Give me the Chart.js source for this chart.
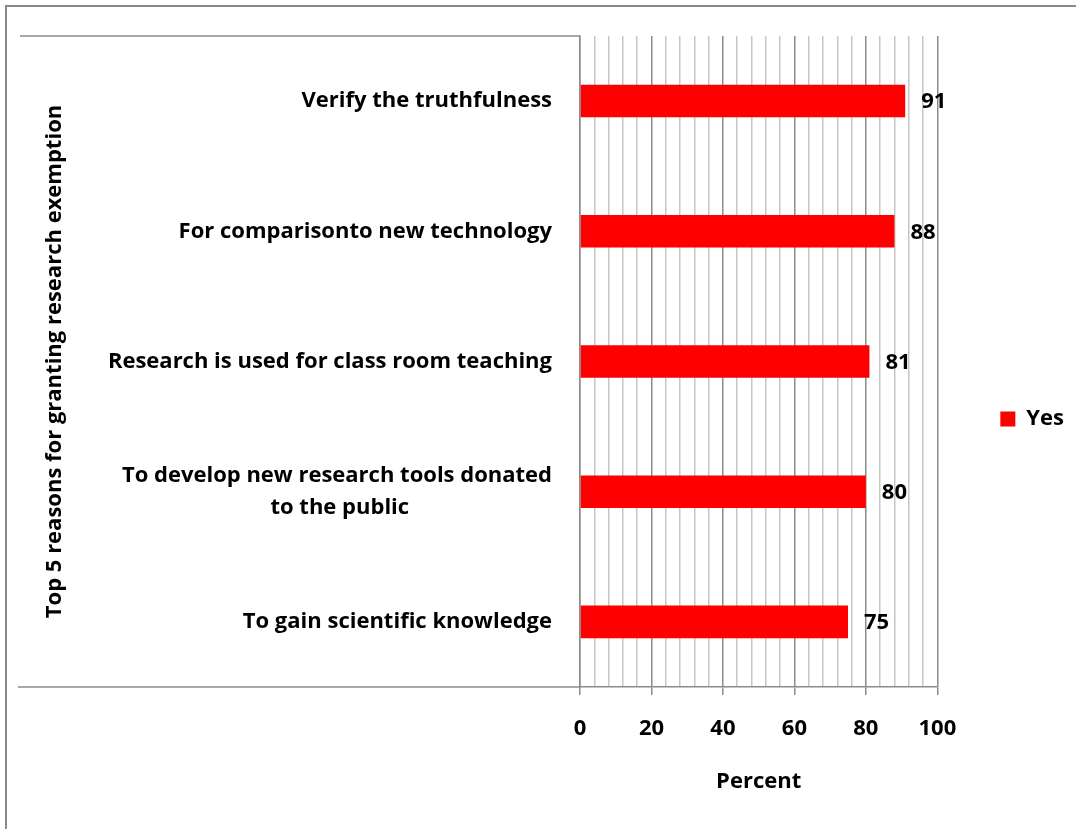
<!DOCTYPE html>
<html>
<head>
<meta charset="utf-8">
<script src="https://cdn.jsdelivr.net/npm/chart.js@4/dist/chart.umd.min.js"></script>
<style>
  html, body { margin: 0; padding: 0; background: #fff; }
  #wrap { width: 1076px; height: 829px; }
</style>
</head>
<body>
<div id="wrap"><canvas id="reasons"></canvas></div>
<script>
// values
const reasons = [
    'Verify the truthfulness',
    'For comparisonto new technology',
    'Research is used for class room teaching',
    ['To develop new research tools donated', 'to the public'],
    'To gain scientific knowledge'
];
const yesPercent = [91, 88, 81, 80, 75];
const percentTicks = [0, 20, 40, 60, 80, 100];
const minorStep = 4;

const FONT = "'Open Sans', 'DejaVu Sans', sans-serif";
const labelFont = { family: FONT, size: 22, weight: 'bold', lineHeight: 1.45 };

// Excel centres wrapped lines, chart.js right-aligns them -> pad with spaces
function centreLines(lines) {
    if (!Array.isArray(lines)) return lines;
    const c = document.createElement('canvas').getContext('2d');
    c.font = 'bold 22px ' + FONT;
    const widest = Math.max(...lines.map(l => c.measureText(l).width));
    const sp = c.measureText(' ').width;
    return lines.map(l => l + ' '.repeat(Math.round((widest - c.measureText(l).width) / 2 / sp)));
}

const frame = {
    id: 'frame',
    beforeDraw(chart) {
        const ctx = chart.ctx;
        ctx.save();
        ctx.strokeStyle = '#8a8a8a';
        ctx.lineWidth = 2;
        ctx.beginPath();
        ctx.moveTo(6, chart.height);
        ctx.lineTo(6, 6);
        ctx.lineTo(chart.width, 6);
        ctx.stroke();
        // category axis box edges
        const a = chart.chartArea;
        ctx.lineWidth = 1.5;
        ctx.strokeStyle = '#8c8c8c';
        ctx.beginPath();
        ctx.moveTo(20, a.top);
        ctx.lineTo(a.left, a.top);
        ctx.moveTo(18, a.bottom);
        ctx.lineTo(a.left, a.bottom);
        ctx.stroke();
        ctx.restore();
    },
    afterLayout(chart) {
        // push legend away from the plot like Excel does
        chart.legend.left += 53;
        chart.legend.right += 53;
        chart.legend.top -= 13;
        chart.legend.bottom -= 13;
    }
};

const valueLabels = {
    id: 'valueLabels',
    afterDatasetsDraw(chart) {
        const ctx = chart.ctx;
        ctx.save();
        ctx.font = 'bold 22px ' + FONT;
        ctx.fillStyle = '#000';
        ctx.textAlign = 'left';
        ctx.textBaseline = 'middle';
        chart.getDatasetMeta(0).data.forEach((bar, i) => {
            ctx.fillText(chart.data.datasets[0].data[i], bar.x + 16, bar.y + 1);
        });
        ctx.restore();
    }
};

new Chart(document.getElementById('reasons'), {
    type: 'bar',
    data: {
        labels: reasons.map(centreLines),
        datasets: [{
            label: 'Yes',
            data: yesPercent,
            backgroundColor: '#ff0000',
            borderWidth: 0,
            barPercentage: 0.25,
            categoryPercentage: 1
        }]
    },
    options: {
        indexAxis: 'y',
        responsive: true,
        maintainAspectRatio: false,
        animation: false,
        layout: { padding: { top: 35, left: 38, right: 55, bottom: 0 } },
        scales: {
            x: {
                min: 0,
                max: 100,
                afterFit(scale) { scale.height = 142; },
                afterBuildTicks(scale) {
                    const t = [];
                    for (let v = 0; v <= 100; v += minorStep) t.push({ value: v });
                    scale.ticks = t;
                },
                ticks: {
                    autoSkip: false,
                    maxRotation: 0,
                    padding: 21,
                    color: '#000',
                    font: { family: FONT, size: 22, weight: 'bold' },
                    callback: v => percentTicks.includes(v) ? v : ''
                },
                grid: {
                    lineWidth: 1.5,
                    tickLength: 8,
                    color: c => percentTicks.includes(c.tick.value) ? '#8c8c8c' : '#c6c6c6',
                    tickColor: c => percentTicks.includes(c.tick.value) ? '#8c8c8c' : 'rgba(0,0,0,0)'
                },
                border: { color: '#8c8c8c', width: 1.5 },
                title: {
                    display: true,
                    text: 'Percent',
                    color: '#000',
                    font: { family: FONT, size: 22, weight: 'bold' },
                    padding: { top: 0, bottom: 34 }
                }
            },
            y: {
                afterFit(scale) { scale.width = 542; },
                grid: { display: false },
                border: { color: '#8c8c8c', width: 1.5 },
                ticks: {
                    padding: 20,
                    color: '#000',
                    font: labelFont
                },
                title: {
                    display: true,
                    text: 'Top 5 reasons for granting research exemption',
                    color: '#000',
                    font: { family: FONT, size: 22, weight: 'bold' },
                    padding: { top: 4, bottom: 0 }
                }
            }
        },
        plugins: {
            legend: {
                position: 'right',
                labels: {
                    boxWidth: 15,
                    boxHeight: 15,
                    padding: 10,
                    color: '#000',
                    font: { family: FONT, size: 22, weight: 'bold' }
                }
            },
            tooltip: { enabled: false }
        }
    },
    plugins: [frame, valueLabels]
});
</script>
</body>
</html>
